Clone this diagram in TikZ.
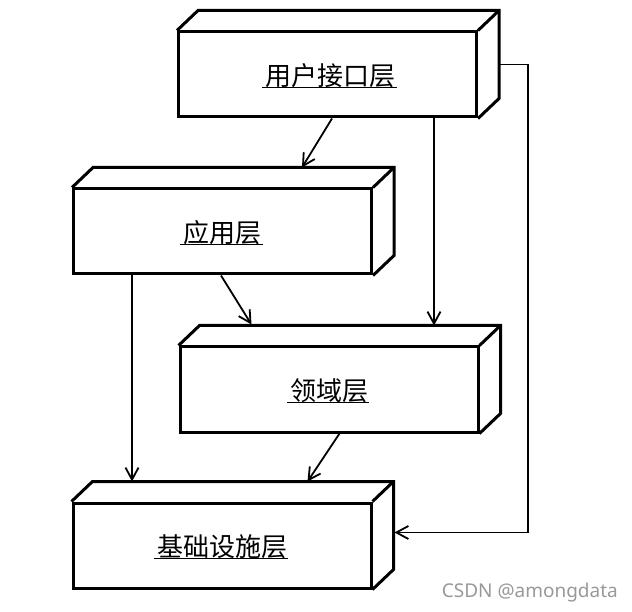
\documentclass[tikz,border=0pt]{standalone}
\usepackage{fontspec}
\newfontfamily\cjk{Noto Sans CJK SC}
\newfontfamily\wmfont{Noto Sans}
\usetikzlibrary{arrows.meta,calc}
\newcommand\slabdepth[1]{%
  \draw[boxline] (#1.north west) -- ++(21,-20) -| ($(#1.south east)+(21,-20)$) -- (#1.south east);
  \draw[boxline] (#1.north east) -- ++(21,-20);
}
\begin{document}
\begin{tikzpicture}[x=1pt,y=-1pt,
  boxline/.style={line width=3pt, line join=miter},
  face/.style={draw, line width=3pt, minimum width=298pt, minimum height=85pt, inner sep=0pt, fill=white},
  lbl/.style={font=\cjk\fontsize{26}{26}\selectfont, inner sep=1pt, text depth=0pt},
  uline/.style={line width=1.5pt},
  arr/.style={line width=1.8pt, -{Straight Barb[length=12pt,width=13pt]}},
  wm/.style={font=\wmfont\fontsize{19}{19}\selectfont, text=black!40, inner sep=0pt}
]
\useasboundingbox (0,0) rectangle (632,612);
\fill[white] (0,0) rectangle (632,612);

% boxes
\node[face] (ui)  at (327.5,74.5)  {};
\node[face] (app) at (222.5,231.5) {};
\node[face] (dom) at (329,389.5)   {};
\node[face] (inf) at (222,545.5)   {};
\slabdepth{ui}
\slabdepth{app}
\slabdepth{dom}
\slabdepth{inf}

% labels
\node[lbl] (uit)  at ($(ui.center)+(3,0)$)  {用户接口层};
\node[lbl] (appt) at (app.center) {应用层};
\node[lbl] (domt) at (dom.center) {领域层};
\node[lbl] (inft) at (inf.center) {基础设施层};
\foreach \t in {uit,appt,domt,inft}{
  \draw[uline] ($(\t.south west)+(-2,1)$) -- ($(\t.south east)+(0,1)$);
}

% back-edge reference points
\coordinate (domtop) at ($(dom.north west)+(21,-20)$);
\coordinate (inftop) at ($(inf.north west)+(21,-20)$);

% connectors
\draw[arr] ($(ui.south west)+(155,0)$) -- ($(app.north west)+(230,-20)$);
\coordinate (p1) at ($(ui.south west)+(257,0)$);
\draw[arr] (p1) -- (p1 |- domtop);
\draw[arr] ($(app.south west)+(149,0)$) -- ($(dom.north west)+(73,-21)$);
\coordinate (p2) at ($(app.south west)+(60,0)$);
\draw[arr] (p2) -- (p2 |- inftop);
\draw[arr] ($(dom.south west)+(161,0)$) -- ($(inf.north west)+(236,-20)$);
\coordinate (ls) at ($(ui.east)+(21,-10)$);
\coordinate (le) at ($(inf.east)+(22,-13)$);
\coordinate (loopx) at (528,0);
\draw[arr, line join=miter] (ls) -- (ls -| loopx) -- (loopx |- le) -- (le);

% watermark
\node[wm, anchor=base east] (wmk) at (618,597) {CSDN @amongdata};
\end{tikzpicture}
\end{document}
